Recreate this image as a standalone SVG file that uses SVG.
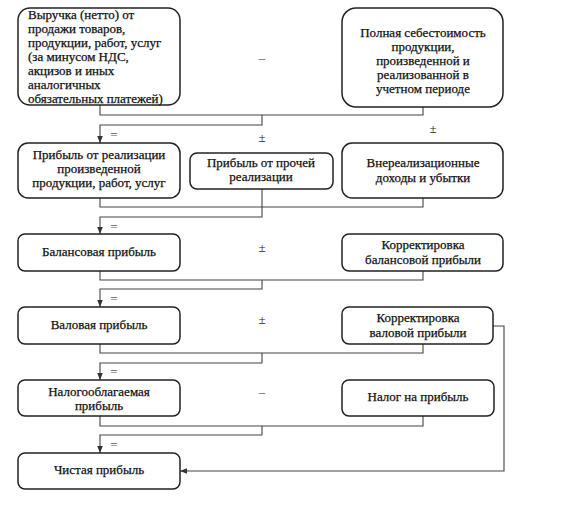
<svg xmlns="http://www.w3.org/2000/svg" width="566" height="514" viewBox="0 0 566 514">
<style>
.box{fill:#fff;stroke:#222;stroke-width:1.5}
.t{font-family:"Liberation Serif","Times New Roman",serif;font-size:13px;fill:#111;stroke:#111;stroke-width:0.25}
.c{text-anchor:middle}
.ln{fill:none;stroke:#444;stroke-width:1.1}
.op{font-family:"Liberation Serif","Times New Roman",serif;font-size:13px;fill:#555;text-anchor:middle}
.pm{fill:#222}
</style>
<defs>
<marker id="ah" viewBox="0 0 10 10" refX="10" refY="5" markerWidth="7" markerHeight="7" markerUnits="userSpaceOnUse" orient="auto">
<path d="M0,1 L10,5 L0,9 Z" fill="#333"/>
</marker>
</defs>
<rect width="566" height="514" fill="#fff"/>
<g id="connectors">
<path class="ln" d="M100,105 V115 H423 V107"/>
<path class="ln" d="M262,115 V125 H100 V143" marker-end="url(#ah)"/>
<path class="ln" d="M100,198 V207 H423 V198"/>
<path class="ln" d="M262,189 V217 H100 V234" marker-end="url(#ah)"/>
<path class="ln" d="M100,271 V280 H423 V271"/>
<path class="ln" d="M262,280 V289 H100 V307" marker-end="url(#ah)"/>
<path class="ln" d="M100,344 V353 H423 V344"/>
<path class="ln" d="M262,353 V363 H100 V380" marker-end="url(#ah)"/>
<path class="ln" d="M100,416 V426 H423 V416"/>
<path class="ln" d="M262,426 V435 H100 V453" marker-end="url(#ah)"/>
<path class="ln" d="M493,326 H504 V471 H180" marker-end="url(#ah)"/>
<text class="op" x="262" y="62">–</text>
<text class="op" x="114" y="139">=</text>
<text class="op pm" x="262" y="142">±</text>
<text class="op pm" x="433" y="133">±</text>
<text class="op" x="114" y="231">=</text>
<text class="op pm" x="262" y="252">±</text>
<text class="op" x="114" y="303">=</text>
<text class="op pm" x="262" y="324">±</text>
<text class="op" x="114" y="376">=</text>
<text class="op" x="262" y="396">–</text>
<text class="op" x="114" y="449">=</text>
</g>
<g id="n1">
<rect class="box" x="18" y="8" width="162" height="97" rx="12"/>
<text class="t" x="28" y="19">Выручка (нетто) от</text>
<text class="t" x="28" y="33">продажи товаров,</text>
<text class="t" x="28" y="47">продукции, работ, услуг</text>
<text class="t" x="28" y="61">(за минусом НДС,</text>
<text class="t" x="28" y="75">акцизов и иных</text>
<text class="t" x="28" y="89">аналогичных</text>
<text class="t" x="28" y="103">обязательных платежей)</text>
</g>
<g id="n2">
<rect class="box" x="342" y="8" width="161" height="99" rx="14"/>
<text class="t c" x="423" y="37">Полная себестоимость</text>
<text class="t c" x="423" y="51">продукции,</text>
<text class="t c" x="423" y="65">произведенной и</text>
<text class="t c" x="423" y="79">реализованной в</text>
<text class="t c" x="423" y="93">учетном периоде</text>
</g>
<g id="n3">
<rect class="box" x="18" y="143" width="162" height="55" rx="10"/>
<text class="t c" x="99" y="159">Прибыль от реализации</text>
<text class="t c" x="99" y="173">произведенной</text>
<text class="t c" x="99" y="187">продукции, работ, услуг</text>
</g>
<g id="n4">
<rect class="box" x="190" y="153" width="143" height="36" rx="7"/>
<text class="t c" x="261" y="167">Прибыль от прочей</text>
<text class="t c" x="261" y="181">реализации</text>
</g>
<g id="n5">
<rect class="box" x="342" y="143" width="161" height="55" rx="10"/>
<text class="t c" x="423" y="167">Внереализационные</text>
<text class="t c" x="423" y="182">доходы и убытки</text>
</g>
<g id="n6">
<rect class="box" x="18" y="234" width="162" height="37" rx="7"/>
<text class="t c" x="99" y="256">Балансовая прибыль</text>
</g>
<g id="n7">
<rect class="box" x="342" y="234" width="161" height="37" rx="7"/>
<text class="t c" x="423" y="249">Корректировка</text>
<text class="t c" x="423" y="264">балансовой прибыли</text>
</g>
<g id="n8">
<rect class="box" x="18" y="307" width="162" height="37" rx="7"/>
<text class="t c" x="99" y="329">Валовая прибыль</text>
</g>
<g id="n9">
<rect class="box" x="342" y="307" width="151" height="37" rx="7"/>
<text class="t c" x="418" y="322">Корректировка</text>
<text class="t c" x="418" y="337">валовой прибыли</text>
</g>
<g id="n10">
<rect class="box" x="18" y="380" width="162" height="36" rx="7"/>
<text class="t c" x="99" y="396">Налогооблагаемая</text>
<text class="t c" x="99" y="410">прибыль</text>
</g>
<g id="n11">
<rect class="box" x="342" y="380" width="152" height="36" rx="7"/>
<text class="t c" x="418" y="401">Налог на прибыль</text>
</g>
<g id="n12">
<rect class="box" x="18" y="453" width="162" height="36" rx="7"/>
<text class="t c" x="99" y="474">Чистая прибыль</text>
</g>
</svg>
